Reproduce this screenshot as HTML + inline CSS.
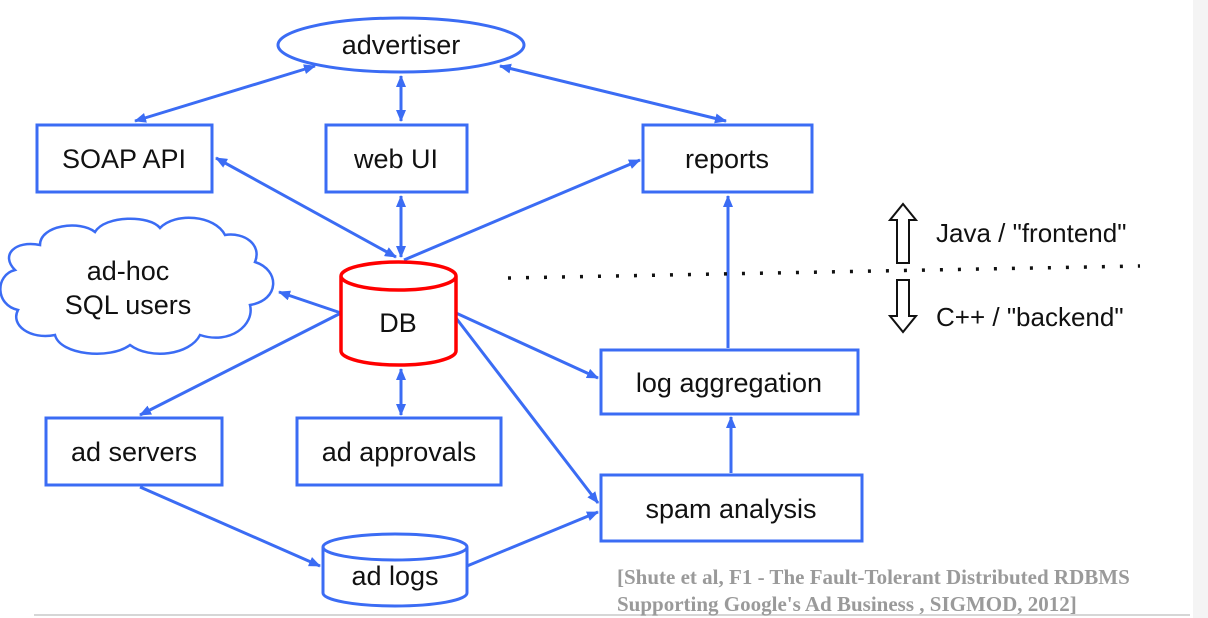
<!DOCTYPE html>
<html><head><meta charset="utf-8"><style>
html,body{margin:0;padding:0;background:#fff;width:1208px;height:618px;overflow:hidden}
svg{display:block}
text{font-family:"Liberation Sans",sans-serif;fill:#111}
</style></head><body>
<svg width="1208" height="618" viewBox="0 0 1208 618" xmlns="http://www.w3.org/2000/svg">
<defs>
<marker id="a" markerWidth="12" markerHeight="10" refX="11" refY="5" orient="auto-start-reverse" markerUnits="userSpaceOnUse">
<path d="M0,0 L12,5 L0,10 Z" fill="#3b6cf4"/></marker>
</defs>
<rect x="1193" y="0" width="15" height="618" fill="#f4f4f4"/>
<line x1="34" y1="615" x2="1190" y2="615" stroke="#d6d6d6" stroke-width="2"/>
<g stroke="#3b6cf4" stroke-width="3" fill="none">
<line x1="315" y1="66" x2="135" y2="121" marker-start="url(#a)" marker-end="url(#a)"/>
<line x1="401" y1="76" x2="401" y2="121" marker-start="url(#a)" marker-end="url(#a)"/>
<line x1="500" y1="66" x2="726" y2="121" marker-start="url(#a)" marker-end="url(#a)"/>
<line x1="216" y1="158" x2="396" y2="257" marker-start="url(#a)" marker-end="url(#a)"/>
<line x1="401" y1="196" x2="401" y2="257" marker-start="url(#a)" marker-end="url(#a)"/>
<line x1="404" y1="260" x2="640" y2="160" marker-end="url(#a)"/>
<line x1="341" y1="313" x2="279" y2="292" marker-end="url(#a)"/>
<line x1="341" y1="313" x2="140" y2="415" marker-end="url(#a)"/>
<line x1="401" y1="369" x2="401" y2="415" marker-start="url(#a)" marker-end="url(#a)"/>
<line x1="456" y1="313" x2="598" y2="378" marker-end="url(#a)"/>
<line x1="456" y1="318" x2="598" y2="503" marker-end="url(#a)"/>
<line x1="140" y1="487" x2="320" y2="566" marker-end="url(#a)"/>
<line x1="467" y1="566" x2="598" y2="512" marker-end="url(#a)"/>
<line x1="731" y1="473" x2="731" y2="417" marker-end="url(#a)"/>
<line x1="728" y1="348" x2="728" y2="196" marker-end="url(#a)"/>
<ellipse cx="401" cy="45" rx="123" ry="27" fill="#fff"/>
<rect x="37" y="125" width="175" height="67" fill="#fff"/>
<rect x="326" y="125" width="141" height="67" fill="#fff"/>
<rect x="643" y="125" width="169" height="67" fill="#fff"/>
<rect x="46" y="418" width="176" height="67" fill="#fff"/>
<rect x="297" y="418" width="204" height="67" fill="#fff"/>
<rect x="601" y="350" width="257" height="64" fill="#fff"/>
<rect x="601" y="475" width="261" height="66" fill="#fff"/>
<path d="M323,547 L323,593 A72,13 0 0 0 467,593 L467,547 A72,13 0 0 0 323,547 A72,13 0 0 0 467,547" fill="#fff"/>
<path d="M40,245 C40,225 80,220 95,232 C105,215 150,215 160,228 C175,212 215,215 225,235 C245,232 262,245 255,262 C280,270 280,300 250,305 C255,325 230,345 200,335 C190,355 150,360 130,345 C110,360 60,355 55,335 C30,340 10,325 18,310 C-5,305 -5,275 15,270 C0,255 15,240 40,245 Z" fill="#fff" stroke-width="2.5"/>
</g>
<path d="M341,276 L341,351 A57.5,14 0 0 0 456,351 L456,276 A57.5,14 0 0 0 341,276 A57.5,14 0 0 0 456,276" fill="#fff" stroke="#f00" stroke-width="3.5"/>
<g font-size="27" text-anchor="middle">
<text x="401" y="54">advertiser</text>
<text x="124" y="168">SOAP API</text>
<text x="396" y="168">web UI</text>
<text x="727" y="168">reports</text>
<text x="128" y="280">ad-hoc</text>
<text x="128" y="314">SQL users</text>
<text x="398" y="332">DB</text>
<text x="134" y="461">ad servers</text>
<text x="399" y="461">ad approvals</text>
<text x="729" y="392">log aggregation</text>
<text x="731" y="518">spam analysis</text>
<text x="395" y="585">ad logs</text>
</g>
<g font-size="26">
<text x="936" y="242">Java / "frontend"</text>
<text x="936" y="326">C++ / "backend"</text>
</g>
<line x1="508" y1="278" x2="1140" y2="266" stroke="#111" stroke-width="3.5" stroke-dasharray="3,15"/>
<path d="M897,263 L909,263 L909,220 L916,220 L903,204 L890,220 L897,220 Z" fill="#fff" stroke="#111" stroke-width="2"/>
<path d="M897,280 L909,280 L909,316 L916,316 L903,332 L890,316 L897,316 Z" fill="#fff" stroke="#111" stroke-width="2"/>
<g font-family="Liberation Serif,serif" font-weight="bold" font-size="21" style="fill:#9a9a9a">
<text x="617" y="584" style="fill:#9a9a9a;font-family:'Liberation Serif',serif">[Shute et al, F1 - The Fault-Tolerant Distributed RDBMS</text>
<text x="617" y="611" style="fill:#9a9a9a;font-family:'Liberation Serif',serif">Supporting Google's Ad Business , SIGMOD, 2012]</text>
</g>
</svg>
</body></html>
